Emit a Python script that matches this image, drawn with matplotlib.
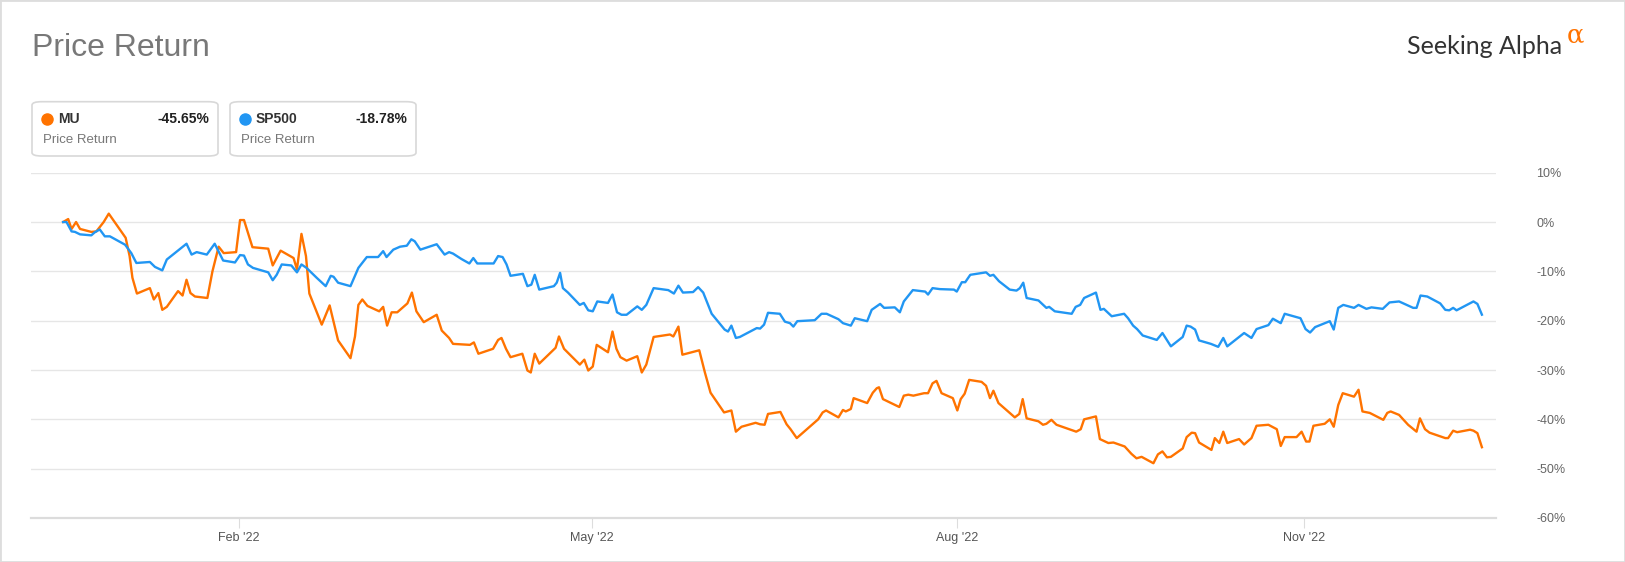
import matplotlib
matplotlib.use("Agg")
import matplotlib.pyplot as plt
from matplotlib.patches import FancyBboxPatch, Rectangle
from matplotlib.lines import Line2D

W, H = 1625, 562

# x = trading session index (0 = first session shown), y = price return in %
sp_days = [0.0, 0.6, 1.5, 2.1, 3.0, 5.0, 5.6, 6.5, 7.4, 8.3, 11.0, 12.1, 13.0, 15.4, 16.3,
           17.6, 18.4, 21.9, 22.8, 23.7, 25.5, 26.9, 28.4, 30.5, 31.4, 32.1, 32.8, 33.7,
           36.4, 37.2, 37.9, 38.8, 40.5, 41.5, 42.3, 43.2, 45.0, 46.6, 47.5, 48.0, 48.8,
           51.0, 52.4, 53.9, 55.9, 56.8, 57.4, 58.6, 59.8, 61.0, 61.8, 62.4, 63.4, 66.3,
           67.7, 68.5, 69.2, 70.7, 72.1, 72.8, 73.5, 76.4, 77.2, 78.0, 78.7, 79.4, 81.6,
           82.4, 83.1, 83.7, 84.5, 87.1, 87.6, 88.2, 88.7, 89.6, 91.7, 92.4, 93.2, 94.0,
           94.8, 96.7, 97.5, 98.3, 99.1, 100.0, 101.9, 102.7, 103.5, 104.8, 107.4, 108.4,
           109.2, 110.0, 111.8, 112.7, 113.6, 115.1, 117.4, 118.0, 118.6, 119.4, 120.1,
           123.1, 123.7, 124.4, 125.1, 127.2, 128.1, 129.0, 129.6, 130.3, 133.4, 134.6,
           135.5, 137.6, 138.4, 139.8, 140.5, 142.7, 143.5, 145.0, 145.7, 147.6, 148.5,
           149.2, 150.8, 153.0, 153.5, 154.3, 155.6, 158.1, 158.6, 159.5, 160.1, 161.0,
           163.8, 164.5, 165.1, 166.1, 168.0, 169.2, 169.8, 170.4, 171.0, 173.1, 174.5,
           175.0, 176.0, 179.0, 179.7, 180.5, 181.2, 183.3, 184.1, 184.7, 186.1, 188.3,
           189.0, 189.9, 190.6, 191.6, 194.1, 195.1, 196.6, 198.7, 199.4, 200.1, 200.9,
           201.6, 203.7, 205.0, 205.9, 206.6, 209.6, 210.9, 211.8, 213.9, 214.7, 216.1,
           216.8, 219.6, 220.5, 221.3, 222.2, 224.8, 225.5, 226.3, 227.2, 229.1, 229.9,
           231.3, 232.2, 234.2, 235.4, 237.1, 239.6, 240.2, 240.9, 242.1, 244.4, 245.3,
           246.0, 246.7, 247.3, 250.3, 251.0, 251.8]
sp_vals = [0.0, 0.0, -1.9, -2.0, -2.5, -2.7, -2.1, -1.5, -2.9, -2.9, -4.6, -6.3, -8.3, -8.1,
           -9.1, -9.8, -7.6, -4.4, -6.6, -6.1, -6.6, -4.4, -7.8, -8.2, -6.7, -6.8, -8.6,
           -9.3, -10.2, -11.8, -10.7, -8.6, -8.8, -10.2, -8.6, -9.3, -11.3, -13.0, -10.9,
           -11.1, -12.3, -13.0, -9.3, -7.1, -7.1, -5.9, -7.1, -5.6, -5.0, -4.8, -3.5, -3.9,
           -5.6, -4.5, -6.6, -6.1, -6.4, -7.5, -8.4, -7.3, -8.4, -8.4, -6.9, -7.1, -8.6,
           -10.9, -10.5, -13.0, -12.7, -10.7, -13.7, -13.0, -12.3, -10.3, -13.4, -14.3,
           -16.8, -16.4, -17.9, -18.1, -16.1, -16.4, -14.7, -18.3, -18.8, -18.8, -17.1,
           -17.8, -16.8, -13.4, -13.8, -14.5, -12.9, -14.3, -14.2, -13.2, -14.3, -18.6,
           -21.8, -22.2, -21.0, -23.5, -23.3, -21.5, -21.6, -20.8, -18.4, -18.6, -20.2,
           -20.5, -21.2, -20.1, -19.9, -18.6, -18.6, -19.7, -20.5, -21.0, -19.5, -20.1,
           -17.8, -16.6, -17.4, -17.3, -18.3, -16.1, -13.8, -14.1, -14.7, -13.4, -13.6,
           -13.7, -14.1, -12.2, -12.2, -10.7, -10.2, -10.9, -10.7, -12.0, -13.7, -13.9,
           -13.4, -12.3, -15.4, -15.9, -17.4, -17.2, -18.1, -18.6, -17.2, -16.8, -15.4,
           -14.3, -17.8, -17.6, -19.1, -18.6, -19.5, -21.0, -21.7, -23.0, -23.9, -22.5,
           -25.2, -23.3, -21.0, -21.2, -21.8, -24.0, -24.7, -25.3, -23.5, -25.2, -22.5,
           -23.5, -21.7, -20.9, -19.6, -20.5, -18.6, -19.5, -21.7, -22.4, -21.3, -20.1,
           -21.8, -17.4, -16.8, -17.4, -16.8, -17.6, -17.3, -17.6, -16.3, -16.1, -17.4,
           -17.4, -14.9, -15.1, -16.5, -17.8, -17.9, -17.4, -17.9, -16.1, -16.6, -18.78]

mu_days = [0.0, 0.9, 1.5, 2.3, 3.0, 5.0, 5.9, 7.2, 8.1, 11.1, 11.8, 12.3, 13.1, 15.4, 16.1,
           16.9, 17.6, 18.4, 20.4, 21.2, 21.9, 22.6, 23.4, 25.6, 26.5, 27.6, 28.5, 30.7,
           31.4, 32.1, 33.6, 36.4, 37.2, 38.6, 40.9, 41.5, 42.3, 43.1, 43.7, 45.9, 47.3,
           48.8, 51.0, 51.8, 52.4, 53.1, 54.0, 56.1, 56.8, 57.5, 58.3, 59.3, 61.1, 61.9,
           62.7, 63.3, 64.0, 66.3, 67.2, 68.5, 69.2, 72.2, 72.9, 73.7, 76.3, 77.2, 77.8,
           78.6, 79.4, 81.5, 82.4, 83.0, 83.7, 84.5, 87.4, 88.0, 88.9, 91.7, 92.5, 93.2,
           94.0, 94.7, 96.7, 97.5, 98.2, 98.9, 100.0, 101.9, 102.7, 103.5, 104.8, 107.7,
           108.3, 109.2, 109.9, 112.9, 113.9, 114.9, 117.3, 118.6, 119.4, 120.4, 122.9,
           123.7, 124.5, 125.1, 127.3, 128.4, 129.1, 130.2, 134.0, 134.8, 135.4, 137.6,
           138.4, 138.9, 139.8, 140.3, 142.7, 143.7, 144.4, 144.8, 145.5, 148.4, 149.2,
           150.0, 150.9, 152.8, 153.5, 154.3, 155.0, 155.9, 157.9, 158.7, 159.3, 160.0,
           160.8, 163.0, 163.8, 164.5, 165.1, 166.0, 168.9, 169.7, 170.3, 171.0, 173.1,
           173.9, 174.5, 175.4, 176.3, 179.8, 180.6, 181.2, 183.3, 184.0, 185.5, 186.4,
           188.4, 189.6, 190.5, 191.4, 193.5, 194.3, 195.1, 195.9, 196.6, 198.7, 199.4,
           200.3, 200.9, 201.6, 203.8, 204.4, 205.2, 205.9, 206.6, 208.7, 209.6, 210.9,
           211.8, 213.9, 215.4, 216.1, 216.8, 218.9, 219.8, 220.6, 221.2, 221.9, 223.9,
           224.8, 225.5, 226.3, 227.1, 229.1, 229.9, 230.6, 231.9, 234.3, 235.0, 235.6,
           237.1, 238.7, 240.2, 240.8, 241.7, 242.5, 245.3, 245.8, 246.7, 247.4, 249.7,
           250.3, 251.0, 251.8]
mu_vals = [0.0, 0.6, -1.4, 0.0, -1.4, -2.0, -1.9, 0.0, 1.7, -3.2, -6.9, -11.3, -14.5, -13.4,
           -15.7, -14.4, -17.8, -17.2, -14.0, -14.9, -11.7, -14.4, -15.1, -15.4, -10.0,
           -5.0, -6.3, -6.1, 0.4, 0.4, -5.1, -5.4, -8.8, -5.8, -7.3, -9.6, -2.4, -6.9,
           -14.5, -20.8, -16.9, -24.0, -27.6, -23.2, -16.8, -15.7, -17.0, -18.1, -17.2,
           -21.0, -18.3, -18.3, -16.5, -14.3, -18.1, -19.1, -20.3, -18.8, -22.0, -23.5,
           -24.7, -24.9, -24.4, -26.7, -25.7, -23.9, -23.5, -25.7, -27.4, -26.7, -30.1,
           -30.5, -26.7, -28.7, -25.5, -23.2, -25.7, -28.9, -27.9, -30.1, -29.3, -24.9,
           -26.4, -22.2, -25.7, -27.4, -28.1, -27.2, -30.5, -28.9, -23.3, -22.8, -23.2,
           -21.2, -26.9, -26.0, -30.5, -34.6, -38.6, -38.2, -42.5, -41.5, -40.7, -41.0,
           -41.1, -38.9, -38.5, -41.0, -42.0, -43.8, -40.0, -38.6, -38.2, -39.6, -38.1,
           -38.4, -37.9, -35.7, -36.7, -34.6, -33.7, -33.5, -35.9, -37.5, -35.2, -35.0,
           -35.2, -34.7, -34.7, -32.7, -32.2, -34.7, -35.7, -38.2, -35.9, -34.8, -32.0,
           -32.4, -33.2, -35.7, -34.2, -36.7, -39.6, -38.9, -35.9, -39.8, -40.4, -41.1,
           -40.9, -40.1, -41.1, -42.5, -42.0, -40.0, -39.4, -44.0, -44.8, -44.7, -45.5,
           -47.0, -47.9, -47.6, -48.9, -47.1, -46.5, -47.7, -47.6, -45.9, -43.6, -42.7,
           -42.8, -44.7, -46.2, -43.8, -44.8, -42.5, -44.8, -44.0, -45.1, -43.8, -41.3,
           -41.1, -42.0, -45.4, -43.6, -43.6, -42.5, -44.5, -44.5, -41.3, -40.9, -40.0,
           -41.5, -37.1, -34.7, -35.4, -34.0, -38.4, -38.7, -40.1, -38.7, -38.4, -39.1,
           -41.1, -42.5, -39.8, -42.0, -42.7, -43.8, -43.8, -42.3, -42.6, -42.1, -42.3,
           -42.8, -45.65]

month_ticks = [31.2, 93.8, 158.6, 220.2]
month_labels = ["Feb '22", "May '22", "Aug '22", "Nov '22"]
pct_ticks = [10, 0, -10, -20, -30, -40, -50, -60]

names = ["MU", "SP500"]
totals = ["-45.65%", "-18.78%"]
colors = ["#ff7300", "#2196f3"]

plt.rcParams["font.family"] = ["Liberation Sans", "DejaVu Sans"]


def fx(px):
    return px / W


def fy(py):
    return 1 - py / H


fig = plt.figure(figsize=(W / 100, H / 100), dpi=100)
ax = fig.add_axes([fx(31), fy(518), fx(1496) - fx(31), fy(172.7) - fy(518)])

ax.plot(mu_days, mu_vals, color=colors[0], lw=1.7, solid_joinstyle="round", zorder=3)
ax.plot(sp_days, sp_vals, color=colors[1], lw=1.7, solid_joinstyle="round", zorder=3)

ax.set_ylim(-60, 10)
ax.set_xlim(-5.7, 254.3)
ax.set_yticks(pct_ticks)
ax.set_yticklabels([f"{t}%" for t in pct_ticks])
ax.yaxis.tick_right()
ax.tick_params(axis="y", length=0, pad=29, labelsize=9, labelcolor="#666666")
ax.grid(axis="y", color="#e6e6e6", lw=1)
ax.set_axisbelow(True)

ax.set_xticks(month_ticks)
ax.set_xticklabels(month_labels)
ax.tick_params(axis="x", length=7, width=0.8, color="#dddddd", pad=3,
               labelsize=9, labelcolor="#555555")

for s in ["top", "left", "right"]:
    ax.spines[s].set_visible(False)
ax.spines["bottom"].set_color("#dcdcdc")
ax.spines["bottom"].set_linewidth(1.6)

# outer frame
fig.add_artist(Rectangle((0, 0), 1, 1, transform=fig.transFigure, fill=False,
                         edgecolor="#dddddd", lw=2))

fig.text(fx(32), fy(48), "Price Return", fontsize=23, color="#787878",
         va="center", ha="left")

# logo
fig.text(fx(1407), fy(54), "Seeking Alpha", fontsize=18, color="#333333",
         family=["Lato", "DejaVu Sans"], ha="left", va="baseline")
fig.text(fx(1567), fy(42), "α", fontsize=18.5, color="#ff7300",
         family=["DejaVu Serif"], ha="left", va="baseline")

# legend cards
for i, (name, total, col) in enumerate(zip(names, totals, colors)):
    x0 = 32 + i * 198
    fig.add_artist(FancyBboxPatch((fx(x0), fy(156)), fx(186), fy(101.7) - fy(156),
                                  boxstyle="round,pad=0,rounding_size=0.006",
                                  transform=fig.transFigure, facecolor="white",
                                  edgecolor="#d8d8d8", lw=1.2))
    fig.add_artist(Line2D([fx(x0 + 15)], [fy(119.3)], marker="o", markersize=8,
                          color=col, transform=fig.transFigure))
    fig.text(fx(x0 + 26), fy(119.3), name, fontsize=10, fontweight="bold",
             color="#333333", va="center", ha="left")
    fig.text(fx(x0 + 177), fy(119.3), total, fontsize=10, fontweight="bold",
             color="#222222", va="center", ha="right")
    fig.text(fx(x0 + 11), fy(140), "Price Return", fontsize=9.5, color="#777777",
             va="center", ha="left")

fig.savefig("out.png", dpi=100)
